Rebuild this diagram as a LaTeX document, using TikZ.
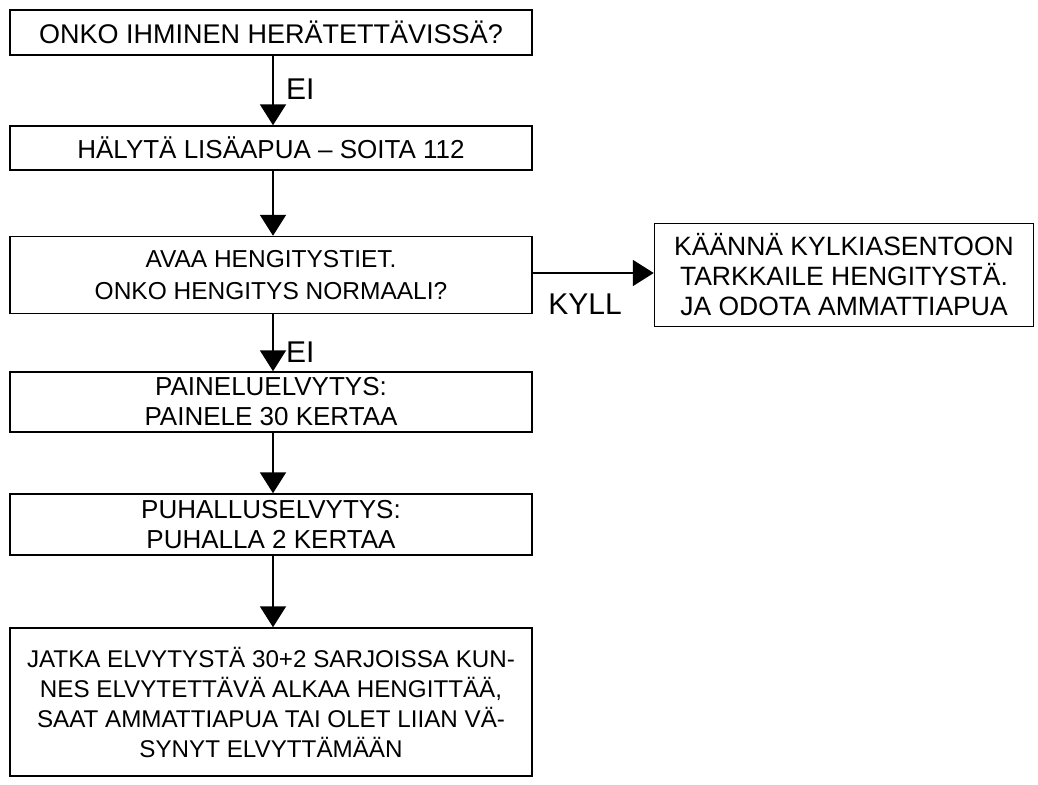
\documentclass[tikz,border=0pt]{standalone}
\usepackage{fontspec}
\setmainfont{Liberation Sans}
\usetikzlibrary{arrows.meta}
\begin{document}
\begin{tikzpicture}[x=1pt,y=-1pt,
  box/.style={draw=black, line width=1.5pt, fill=white, inner sep=0pt, align=center,
    font=\fontsize{26}{30}\selectfont},
  conn/.style={line width=2pt, -{Triangle[width=26pt,length=21pt]}},
  lbl/.style={font=\fontsize{30}{32}\selectfont, inner sep=0pt}]
\useasboundingbox (0,0) rectangle (1038,784);
\node[box, minimum width=522pt, minimum height=45pt, font=\fontsize{27}{30}\selectfont] (b1) at (271,32.5) {ONKO IHMINEN HERÄTETTÄVISSÄ?};
\node[box, minimum width=522pt, minimum height=44pt] (b2) at (271,148) {HÄLYTÄ LISÄAPUA – SOITA 112};
\node[box, minimum width=522pt, minimum height=77pt, font=\fontsize{24.5}{31.5}\selectfont] (b3) at (271,275) {AVAA HENGITYSTIET.\\ONKO HENGITYS NORMAALI?};
\node[box, minimum width=379pt, minimum height=103pt, font=\fontsize{26.5}{30}\selectfont] (r) at (844,275) {KÄÄNNÄ KYLKIASENTOON\\TARKKAILE HENGITYSTÄ.\\JA ODOTA AMMATTIAPUA};
\node[box, minimum width=522pt, minimum height=60pt] (b4) at (271,402) {PAINELUELVYTYS:\\PAINELE 30 KERTAA};
\node[box, minimum width=522pt, minimum height=61pt] (b5) at (271,524.5) {PUHALLUSELVYTYS:\\PUHALLA 2 KERTAA};
\node[box, minimum width=522pt, minimum height=148pt, font=\fontsize{24.2}{30}\selectfont] (b6) at (271,702) {JATKA ELVYTYSTÄ 30+2 SARJOISSA KUN-\\NES ELVYTETTÄVÄ ALKAA HENGITTÄÄ,\\SAAT AMMATTIAPUA TAI OLET LIIAN VÄ-\\SYNYT ELVYTTÄMÄÄN};
\draw[conn] (b1.south -| 273,0) -- (b2.north -| 273,0);
\draw[conn] (b2.south -| 273,0) -- (b3.north -| 273,0);
\draw[conn] (b3.south -| 273,0) -- (b4.north -| 273,0);
\draw[conn] (b4.south -| 273,0) -- (b5.north -| 273,0);
\draw[conn] (b5.south -| 273,0) -- (b6.north -| 273,0);
\draw[conn] (b3.east |- 0,273) -- (r.west |- 0,273);
\node[lbl, anchor=west] (l1) at (286,89) {EI};
\node[lbl, anchor=west] (l2) at (286,352) {EI};
\node[lbl] (l3) at (585,304) {KYLL};
\end{tikzpicture}
\end{document}
